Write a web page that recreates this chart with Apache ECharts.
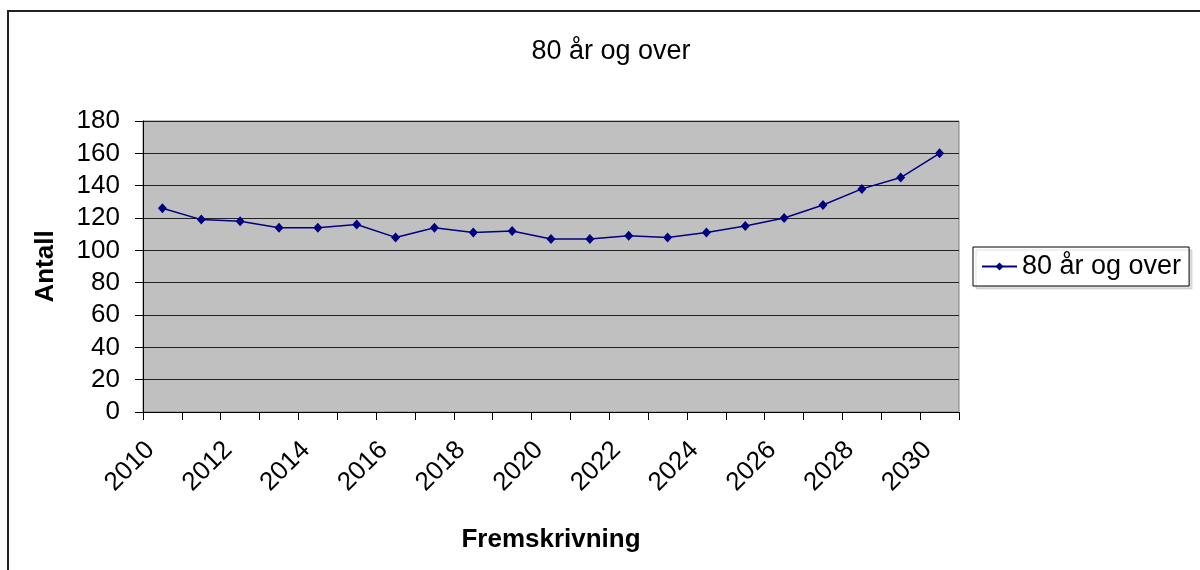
<!DOCTYPE html>
<html>
<head>
<meta charset="utf-8">
<script src="https://cdn.jsdelivr.net/npm/echarts@6/dist/echarts.min.js"></script>
<style>
  html, body { margin: 0; padding: 0; background: #fff; }
  #chart { width: 1200px; height: 570px; }
</style>
</head>
<body>
<div id="chart"></div>
<script>
// Projected number of residents aged 80 and over, per year
const years = ['2010', '2011', '2012', '2013', '2014', '2015', '2016', '2017', '2018', '2019',
  '2020', '2021', '2022', '2023', '2024', '2025', '2026', '2027', '2028', '2029', '2030'];
const antall = [126, 119, 118, 114, 114, 116, 108, 114, 111, 112,
  107, 107, 109, 108, 111, 115, 120, 128, 138, 145, 160];
const seriesName = '80 år og over';
const yTicks = { min: 0, max: 180, step: 20 };

const FONT = '"Liberation Sans", Arial, sans-serif';
const chart = echarts.init(document.getElementById('chart'));

chart.setOption({
  animation: false,
  textStyle: { fontFamily: FONT, color: '#000' },
  title: {
    text: seriesName,
    left: 606,
    top: 33,
    textAlign: 'center',
    textStyle: { fontFamily: FONT, fontSize: 27, fontWeight: 'normal', color: '#000' }
  },
  legend: {
    left: 973,
    top: 247,
    orient: 'vertical',
    padding: [6, 8, 6, 8],
    itemWidth: 35,
    itemHeight: 10,
    itemGap: 4,
    backgroundColor: '#fff',
    borderColor: '#000',
    borderWidth: 1,
    shadowColor: 'rgba(0,0,0,0.12)',
    shadowOffsetX: 3,
    shadowOffsetY: 3,
    textStyle: { fontFamily: FONT, fontSize: 27, color: '#000' },
    data: [seriesName]
  },
  grid: {
    left: 143,
    right: 241,
    top: 121,
    bottom: 158,
    show: true,
    backgroundColor: '#c0c0c0',
    borderColor: '#808080',
    borderWidth: 1
  },
  xAxis: {
    type: 'category',
    data: years,
    boundaryGap: true,
    name: 'Fremskrivning',
    nameLocation: 'middle',
    nameGap: 115,
    nameTextStyle: { fontFamily: FONT, fontSize: 26, fontWeight: 'bold', color: '#000' },
    axisLine: { lineStyle: { color: '#000', width: 1 } },
    axisTick: { show: true, interval: 0, length: 8, lineStyle: { color: '#000' } },
    axisLabel: {
      interval: 1,
      rotate: 45,
      margin: 22,
      padding: [0, 17, 0, 0],
      fontFamily: FONT,
      fontSize: 26,
      color: '#000'
    },
    splitLine: { show: false }
  },
  yAxis: {
    type: 'value',
    min: yTicks.min,
    max: yTicks.max,
    interval: yTicks.step,
    name: 'Antall',
    nameLocation: 'middle',
    nameGap: 84,
    nameTextStyle: { fontFamily: FONT, fontSize: 26, fontWeight: 'bold', color: '#000' },
    axisLine: { show: true, lineStyle: { color: '#000', width: 1 } },
    axisTick: { show: true, length: 8, lineStyle: { color: '#000' } },
    axisLabel: { margin: 23, fontFamily: FONT, fontSize: 26, color: '#000' },
    splitLine: { show: true, lineStyle: { color: '#222', width: 1 } }
  },
  series: [{
    name: seriesName,
    type: 'line',
    data: antall,
    symbol: 'diamond',
    symbolSize: [9, 10],
    lineStyle: { color: '#000080', width: 1.5 },
    itemStyle: { color: '#000080' }
  }],
  graphic: [{
    type: 'rect',
    shape: { x: 8, y: 11, width: 1300, height: 700 },
    style: { fill: null, stroke: '#222', lineWidth: 2 },
    silent: true,
    z: -1
  }]
});
</script>
</body>
</html>
